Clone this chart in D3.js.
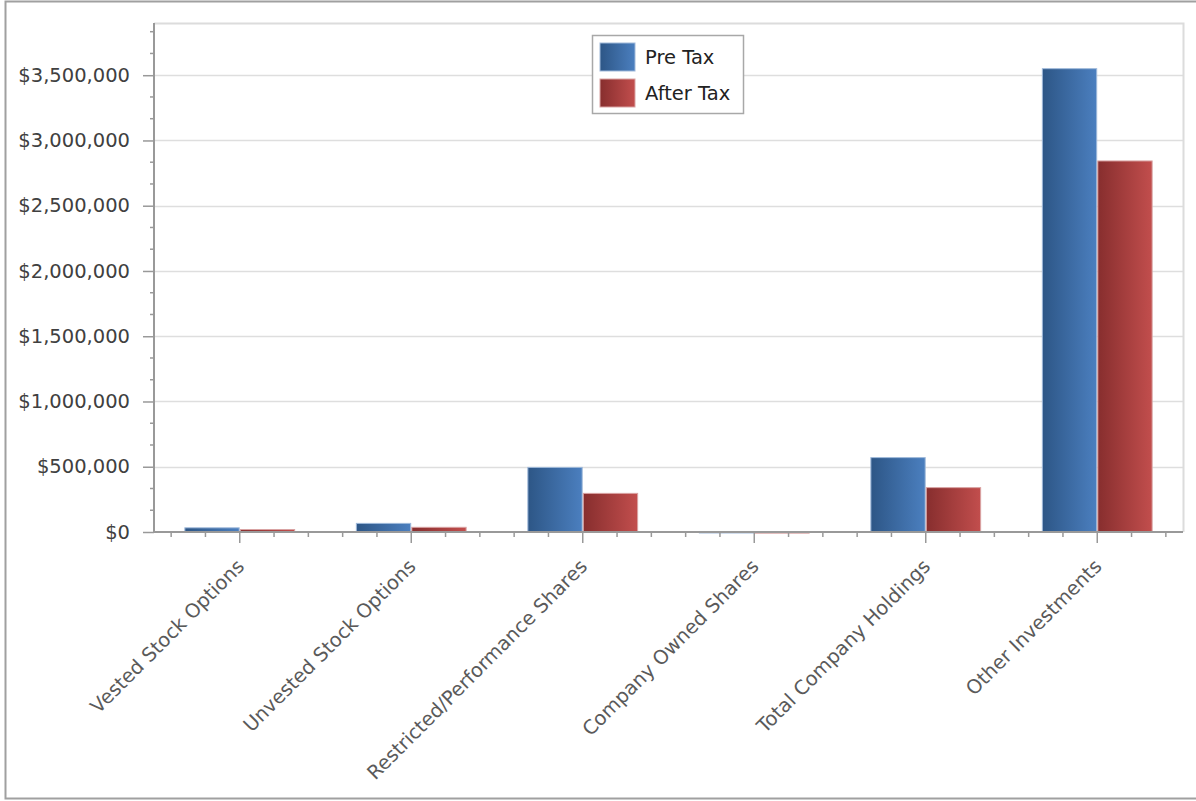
<!DOCTYPE html>
<html>
<head>
<meta charset="utf-8">
<script src="https://cdn.jsdelivr.net/npm/d3@7/dist/d3.min.js"></script>
<style>
  html, body { margin: 0; padding: 0; background: #fff; }
  svg { display: block; font-family: "DejaVu Sans", Verdana, sans-serif; }
</style>
</head>
<body>
<svg id="chart" width="1196" height="801"></svg>
<script>
// Holdings by category, pre and after tax (USD)
const categories = [
  "Vested Stock Options",
  "Unvested Stock Options",
  "Restricted/Performance Shares",
  "Company Owned Shares",
  "Total Company Holdings",
  "Other Investments"
];
const seriesNames = ["Pre Tax", "After Tax"];
const preTax   = [32000, 66000, 495000, 4000, 570000, 3550000];
const afterTax = [19000, 36000, 296000, 3000, 340000, 2843000];
const yTicks = [0, 500000, 1000000, 1500000, 2000000, 2500000, 3000000, 3500000];
const yMax = 3900000;

const svg = d3.select("#chart");
const W = 1196, H = 801;
const plot = { left: 154, right: 1183, top: 23, bottom: 532 };
const fontSize = "19.5px";

// Gradients giving each bar a shaded, cylinder-like look
const defs = svg.append("defs");
const palettes = [
  { id: "gPre",  stops: ["#2d5686", "#4b7fbf"], edge: "#9fb9da" },
  { id: "gPost", stops: ["#872e2e", "#c24e4d"], edge: "#d9a3a3" }
];
palettes.forEach(p => {
  const g = defs.append("linearGradient").attr("id", p.id)
    .attr("x1", "0%").attr("x2", "100%").attr("y1", "0%").attr("y2", "0%");
  g.append("stop").attr("offset", "0%").attr("stop-color", p.stops[0]);
  g.append("stop").attr("offset", "100%").attr("stop-color", p.stops[1]);
});

// Outer frame
svg.append("rect").attr("x", 5.5).attr("y", 1.5).attr("width", W).attr("height", 797)
  .attr("fill", "#fff").attr("stroke", "#a0a0a0").attr("stroke-width", 2);

const x = d3.scaleBand().domain(categories).range([plot.left, plot.right]).padding(0);
const y = d3.scaleLinear().domain([0, yMax]).range([plot.bottom, plot.top]);
const inner = d3.scaleBand().domain(seriesNames).padding(0.02);

// Horizontal grid
svg.append("g").selectAll("line").data(yTicks.filter(d => d > 0)).join("line")
  .attr("x1", plot.left).attr("x2", plot.right)
  .attr("y1", d => Math.round(y(d)) + 0.5).attr("y2", d => Math.round(y(d)) + 0.5)
  .attr("stroke", "#dedede").attr("stroke-width", 1.5);

// Plot frame (top and right)
svg.append("path")
  .attr("d", `M${plot.left},${plot.top + 0.5}H${plot.right + 0.5}V${plot.bottom}`)
  .attr("fill", "none").attr("stroke", "#dcdcdc").attr("stroke-width", 2);

// Bars
const groups = svg.append("g").selectAll("g").data(categories).join("g")
  .attr("transform", d => `translate(${x(d)},0)`);
const bw = x.bandwidth();
const pairWidth = 112;
inner.range([(bw - pairWidth) / 2, (bw + pairWidth) / 2]);
const seriesData = [preTax, afterTax];
groups.each(function(cat, ci) {
  d3.select(this).selectAll("rect").data(seriesNames).join("rect")
    .attr("x", s => inner(s))
    .attr("width", inner.bandwidth())
    .attr("y", (s, si) => y(seriesData[si][ci]))
    .attr("height", (s, si) => Math.max(1.5, plot.bottom - y(seriesData[si][ci])))
    .attr("fill", (s, si) => `url(#${palettes[si].id})`)
    .attr("stroke", (s, si) => palettes[si].edge)
    .attr("stroke-width", 1);
});

// Y axis
const yAxis = d3.axisLeft(y).tickValues(yTicks)
  .tickFormat(d => "$" + d3.format(",")(d)).tickSize(11).tickPadding(13);
const ya = svg.append("g").attr("transform", `translate(${plot.left},0)`).call(yAxis);
ya.select(".domain").attr("stroke", "#999").attr("stroke-width", 2).attr("d", `M0,${plot.top}V${plot.bottom}`);
ya.selectAll(".tick line").attr("stroke", "#999").attr("stroke-width", 1.5);
ya.selectAll(".tick text").attr("fill", "#404040").style("font-size", fontSize)
  .style("font-family", '"DejaVu Sans", Verdana, sans-serif');
// Y minor ticks
const yMinor = d3.range(0, yMax, 500000 / 3).filter(v => Math.abs((v / 500000) - Math.round(v / 500000)) > 1e-6);
svg.append("g").selectAll("line").data(yMinor).join("line")
  .attr("x1", plot.left - 4).attr("x2", plot.left)
  .attr("y1", d => y(d)).attr("y2", d => y(d))
  .attr("stroke", "#999").attr("stroke-width", 1.5);

// X axis
const xa = svg.append("g").attr("transform", `translate(0,${plot.bottom})`)
  .call(d3.axisBottom(x).tickSize(11).tickFormat(""));
xa.select(".domain").attr("stroke", "#999").attr("stroke-width", 2).attr("d", `M${plot.left},0H${plot.right}`);
xa.selectAll(".tick line").attr("stroke", "#999").attr("stroke-width", 1.5);
// X minor ticks every fifth of a category
const step = bw / 5;
const xMinor = [];
categories.forEach(c => {
  const cx = x(c) + bw / 2;
  [-2, -1, 1, 2].forEach(k => xMinor.push(cx + k * step));
});
xa.append("g").selectAll("line").data(xMinor).join("line")
  .attr("x1", d => d).attr("x2", d => d).attr("y1", 0).attr("y2", 5)
  .attr("stroke", "#999").attr("stroke-width", 1.5);

// Rotated category labels
svg.append("g").selectAll("text").data(categories).join("text")
  .attr("transform", d => `translate(${x(d) + bw / 2 - 4},${plot.bottom + 26}) rotate(-45)`)
  .attr("text-anchor", "end").attr("dy", "0.7em")
  .attr("fill", "#5a5a5a").style("font-size", fontSize)
  .text(d => d);

// Legend
const legend = svg.append("g").attr("transform", "translate(592,35)");
legend.append("rect").attr("x", 0.5).attr("y", 0.5).attr("width", 151).attr("height", 78)
  .attr("fill", "#fff").attr("stroke", "#a8a8a8").attr("stroke-width", 1.5);
seriesNames.forEach((s, i) => {
  const row = legend.append("g").attr("transform", `translate(8,${8 + i * 36})`);
  row.append("rect").attr("width", 35).attr("height", 28)
    .attr("fill", `url(#${palettes[i].id})`).attr("stroke", palettes[i].edge);
  row.append("text").attr("x", 45).attr("y", 14).attr("dy", "0.36em")
    .attr("fill", "#222").style("font-size", fontSize).text(s);
});
</script>
</body>
</html>
